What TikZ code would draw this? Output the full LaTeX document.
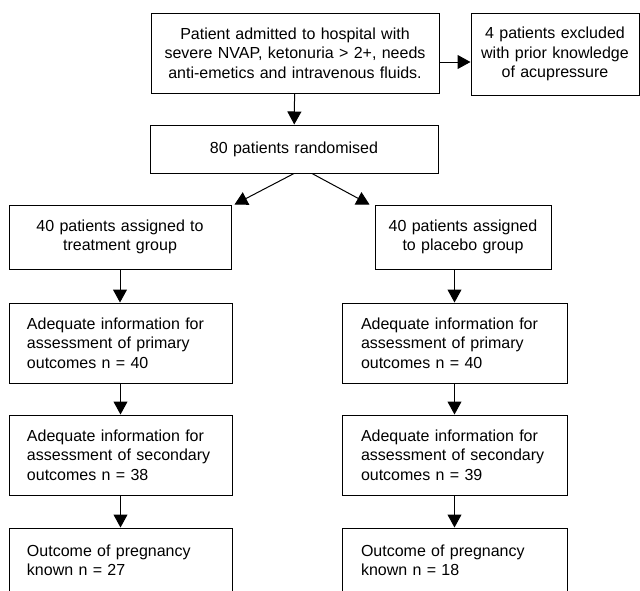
\documentclass[tikz,border=0pt]{standalone}
\usepackage{fontspec}
\setmainfont{Liberation Sans}
\usetikzlibrary{arrows.meta}
\tikzset{
	flowbox/.style={draw, line width=1pt, inner sep=0pt, align=center, font=\fontsize{16}{19.3}\selectfont},
	databox/.style={flowbox, align=left, inner xsep=18pt, text width=187pt, minimum height=80pt},
	arr/.style={line width=1pt, -{Triangle[length=13pt, width=14pt]}}
}
\begin{document}
\begin{tikzpicture}[x=1pt, y=-1pt]
	\path[use as bounding box, clip] (0,0) rectangle (640,590);
	% top of the chart
	\node[flowbox, text width=288pt, minimum height=80pt] (admit) at (295,53) {Patient admitted to hospital with\\ severe NVAP, ketonuria > 2+, needs\\ anti-emetics and intravenous fluids.};
	\node[flowbox, text width=168pt, minimum height=82pt] (excl) at (555,54) {4 patients excluded\\ with prior knowledge\\ of acupressure};
	\node[flowbox, text width=288pt, minimum height=48pt] (rand) at (294,149) {80 patients randomised};
	\node[flowbox, text width=222pt, minimum height=64pt] (treat) at (120,237) {40 patients assigned to\\ treatment group};
	\node[flowbox, text width=176pt, minimum height=64pt] (plac) at (463,237) {40 patients assigned\\ to placebo group};
	% treatment column
	\node[databox] (tprim) at (120.5,343) {Adequate information for\\ assessment of primary\\ outcomes n = 40};
	\node[databox] (tsec) at (120.5,455) {Adequate information for\\ assessment of secondary\\ outcomes n = 38};
	\node[databox, minimum height=64pt] (tout) at (120.5,560) {Outcome of pregnancy\\ known n = 27};
	% placebo column
	\node[databox, inner xsep=19pt] (pprim) at (454.5,343) {Adequate information for\\ assessment of primary\\ outcomes n = 40};
	\node[databox, inner xsep=19pt] (psec) at (454.5,455) {Adequate information for\\ assessment of secondary\\ outcomes n = 39};
	\node[databox, inner xsep=19pt, minimum height=64pt] (pout) at (454.5,560) {Outcome of pregnancy\\ known n = 18};
	\draw[arr] ([yshift=-9pt]admit.east) -- ([yshift=-9pt]admit.east -| excl.west);
	\draw[arr] (admit) -- (rand);
	\draw[arr] (rand.south) -- ([xshift=3pt]treat.north east);
	\draw[arr] ([xshift=18pt]rand.south) -- ([xshift=-5pt]plac.north west);
	\draw[arr] (treat.south) -- (treat.south |- tprim.north);
	\draw[arr] (tprim) -- (tsec);
	\draw[arr] (tsec) -- (tout);
	\draw[arr] (pprim.north |- plac.south) -- (pprim.north);
	\draw[arr] (pprim) -- (psec);
	\draw[arr] (psec) -- (pout);
\end{tikzpicture}
\end{document}
